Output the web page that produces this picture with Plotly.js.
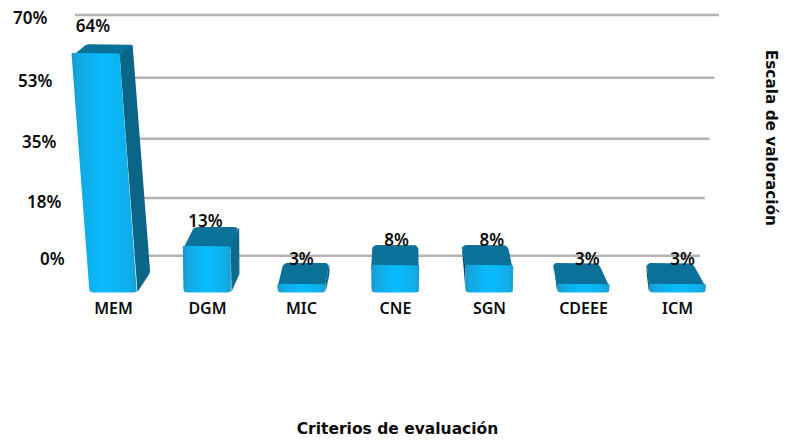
<!DOCTYPE html>
<html><head><meta charset="utf-8">
<script src="https://cdn.plot.ly/plotly-3.0.1.min.js"></script>
<style>html,body{margin:0;padding:0;background:#fff}</style></head>
<body><div id="chart" style="width:786px;height:440px"></div>
<script>
// ---- data ----
const categories = ['MEM','DGM','MIC','CNE','SGN','CDEEE','ICM'];
const values = [64,13,3,8,8,3,3];
const valueLabels = ['64%','13%','3%','8%','8%','3%','3%'];
const scaleTicks = [0,17.5,35,52.5,70];
const scaleLabels = ['0%','18%','35%','53%','70%'];

// ---- axes: 94 px per category, 3.787 px per unit ----
const W=786,H=440,MB=144.6,ML=9,X0=113.5;
const PX=1/94, PY=1/3.787;
const base=0.63;
const FONT='Noto Sans, sans-serif', TITLE='DejaVu Sans, sans-serif', INK='#0c0c0c';
const xOf=px=>(px-X0)*PX;
const yOf=py=>(H-MB-py)*PY;

// ---- perspective helpers (all in axis units) ----
const lean=v=>-0.0044*v*v*PX;
const backV=v=>5.65+0.948*v;
const wallV=v=>yOf(256-3.243*v-0.00286*v*v);
const backShift=i=>Math.max((3-i)*4.7,-8)*PX;
const frontW=i=>(48+Math.max(0,i-4)*4.5)*PX;
const backW=46*PX;

function rounded(pts,radii){ // radii in px, one per corner
  const xs=[],ys=[],n=pts.length;
  const toPx=p=>[p[0]/PX,p[1]/PY];
  for(let k=0;k<n;k++){
    const a=toPx(pts[(k+n-1)%n]),b=toPx(pts[k]),c=toPx(pts[(k+1)%n]);
    const la=Math.hypot(a[0]-b[0],a[1]-b[1]),lc=Math.hypot(c[0]-b[0],c[1]-b[1]);
    const ra=Math.min(radii[k],la/2.2),rc=Math.min(radii[k],lc/2.2);
    const s=[b[0]+(a[0]-b[0])*ra/la,b[1]+(a[1]-b[1])*ra/la];
    const e=[b[0]+(c[0]-b[0])*rc/lc,b[1]+(c[1]-b[1])*rc/lc];
    for(let t=0;t<=5;t++){
      const u=t/5,q=(1-u)*(1-u),w=2*u*(1-u),z=u*u;
      xs.push((q*s[0]+w*b[0]+z*e[0])*PX);
      ys.push((q*s[1]+w*b[1]+z*e[1])*PY);
    }
  }
  xs.push(xs[0]);ys.push(ys[0]);
  return {x:xs,y:ys};
}
function face(pts,radii,fill){
  const p=rounded(pts,radii);
  return Object.assign({x:p.x,y:p.y,type:'scatter',mode:'lines',line:{width:0},fill:'toself',
    hoverinfo:'skip',showlegend:false},fill);
}
const FRONT={fillgradient:{type:'horizontal',colorscale:[[0,'#1b96c6'],[0.1,'#13a8e0'],[0.5,'#08bcff'],[0.9,'#10aee8'],[1,'#1b9ccd']]}};

const traces=[];
// gridlines on the back wall
scaleTicks.forEach(t=>{
  traces.push({x:[xOf(75+(70-t)*0.25),xOf(700+t*0.27)],y:[wallV(t),wallV(t)],
    type:'scatter',mode:'lines',line:{color:'#b5b3b3',width:2.5},hoverinfo:'skip',showlegend:false});
});
// bars
categories.forEach((c,i)=>{
  const v=values[i];
  const cTop=i+lean(v), fw=frontW(i), s=backShift(i);
  const fl=cTop-fw/2, fr=cTop+fw/2;
  const bl=i-fw/2, br=i+fw/2;           // front, at the base
  const bcx=cTop+s;
  const backL=bcx-backW/2, backR=bcx+backW/2;
  const yT=v, yB=backV(v), depth=20*PY;
  const r=v<20?5:2;
  if(i<3){
    traces.push(face([[fr,yT],[backR,yB],[br+s*0.9,base+depth],[br,base]],[1,2,2,2],{fillcolor:i===0?'#0b6587':'#0a6a8f'}));
  }else if(i>3){
    traces.push(face([[fl,yT],[backL,yB],[bl+s*0.3,base+depth],[bl,base]],[1,2,2,2],{fillcolor:'#0a3f57'}));
  }
  traces.push(face([[fl,yT-1],[backL,yB],[backR,yB],[fr,yT-1]],[1,r,r,1],{fillcolor:'#0b7199'}));
  traces.push(face([[bl,base],[fl,yT],[fr,yT],[br,base]],[4,1,1,4],FRONT));
});
// value labels
traces.push({x:values.map((v,i)=>i+lean(v)+1.3*(i-2)*PX),y:values.map(v=>v+5.9+0.0125*v),text:valueLabels,
  type:'scatter',mode:'text',textposition:'middle center',
  textfont:{family:FONT,size:17,color:INK,weight:600},hoverinfo:'skip',showlegend:false});

// scale labels along the slanted wall
const annotations=scaleTicks.map((t,k)=>({x:xOf(67-t*0.257),y:wallV(t)-3*PY,xref:'x',yref:'y',
  text:scaleLabels[k],showarrow:false,xanchor:'right',yanchor:'middle',
  font:{family:FONT,size:17,color:INK,weight:600}}));
annotations.push({x:xOf(771),y:yOf(138),xref:'x',yref:'y',text:'Escala de valoración',
  showarrow:false,textangle:90,xanchor:'center',yanchor:'middle',
  font:{family:TITLE,size:15.3,color:INK,weight:700}});

const layout={width:W,height:H,paper_bgcolor:'#fff',plot_bgcolor:'#fff',showlegend:false,
  margin:{l:ML,r:0,t:0,b:MB,pad:0},
  xaxis:{range:[xOf(ML),xOf(W)],tickvals:categories.map((c,i)=>i),ticktext:categories,showgrid:false,zeroline:false,
    showline:false,ticks:'',automargin:false,ticklabelstandoff:2,
    tickfont:{family:FONT,size:16,color:INK,weight:600},
    title:{text:'Criterios de evaluación',standoff:105,font:{family:TITLE,size:15.5,color:INK,weight:700}}},
  yaxis:{range:[0,yOf(0)],visible:false,automargin:false,showgrid:false,zeroline:false},
  annotations};
Plotly.newPlot('chart',traces,layout,{displayModeBar:false,responsive:false});
</script></body></html>
